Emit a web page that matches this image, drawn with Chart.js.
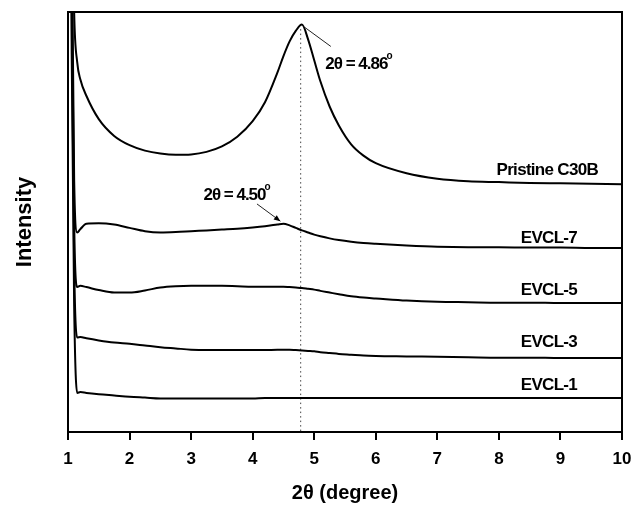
<!DOCTYPE html>
<html>
<head>
<meta charset="utf-8">
<script src="https://cdn.jsdelivr.net/npm/chart.js@4/dist/chart.umd.min.js"></script>
<style>
  html, body { margin: 0; padding: 0; background: #fff; }
  #wrap { width: 632px; height: 505px; }
</style>
</head>
<body>
<div id="wrap"><canvas id="chart"></canvas></div>
<script>
// 2 theta positions (degree), shared by every pattern
var twoTheta = [1.0, 1.03, 1.06, 1.1, 1.15, 1.2, 1.3, 1.5, 1.75, 2, 2.25, 2.5, 2.75, 3, 3.25, 3.5, 3.75, 4, 4.2, 4.4, 4.5, 4.6, 4.7, 4.8, 4.9, 5, 5.1, 5.25, 5.4, 5.6, 5.8, 6, 6.5, 7, 7.5, 8, 8.5, 9, 9.5, 10];

// intensities (arbitrary, stacked offsets as in the figure)
var pristine = [250, 200, 140, 100, 88, 84, 80, 74.5, 70.5, 68.3, 67, 66.3, 66, 66.1, 66.7, 68, 70.3, 74, 78.5, 85.5, 89.5, 93, 95.5, 97, 93.5, 88.5, 83.5, 77.5, 73, 68.5, 65.8, 64, 61.6, 60.3, 59.7, 59.5, 59.3, 59.2, 59.1, 59];
var evcl7 = [250, 200, 120, 60, 47.5, 48.3, 49.6, 49.7, 49.4, 48.6, 47.8, 47.5, 47.6, 47.8, 48, 48.2, 48.4, 48.7, 49, 49.4, 49.6, 49.2, 48.6, 48, 47.5, 47, 46.6, 46.1, 45.7, 45.3, 45, 44.8, 44.4, 44.1, 44, 44, 43.9, 43.9, 43.8, 43.8];
var evcl5 = [250, 200, 110, 50, 34.5, 34.8, 34.5, 33.8, 33.2, 33.2, 33.7, 34.4, 34.7, 34.8, 34.8, 34.8, 34.7, 34.6, 34.6, 34.6, 34.6, 34.5, 34.4, 34.3, 34.1, 33.9, 33.6, 33.2, 32.8, 32.3, 32, 31.8, 31.3, 31, 30.9, 30.8, 30.8, 30.7, 30.7, 30.7];
var evcl3 = [250, 200, 100, 40, 22.5, 22.6, 22.3, 21.8, 21.3, 21, 20.6, 20.2, 19.9, 19.6, 19.5, 19.5, 19.5, 19.5, 19.5, 19.6, 19.6, 19.6, 19.5, 19.4, 19.3, 19.2, 19, 18.8, 18.6, 18.4, 18.2, 18.1, 18, 17.9, 17.8, 17.7, 17.7, 17.6, 17.6, 17.6];
var evcl1 = [250, 200, 90, 30, 9.3, 9.5, 9.3, 9, 8.7, 8.4, 8.2, 8, 8, 8, 8, 8, 8, 8, 8.1, 8.1, 8.1, 8.1, 8.1, 8.1, 8.1, 8.1, 8.1, 8.1, 8.1, 8.1, 8.1, 8.1, 8.1, 8.1, 8.1, 8.1, 8.1, 8.1, 8.1, 8.1];

var seriesNames = ['Pristine C30B', 'EVCL-7', 'EVCL-5', 'EVCL-3', 'EVCL-1'];
var seriesValues = [pristine, evcl7, evcl5, evcl3, evcl1];

// dotted marker at the C30B peak
var peakLineX = [4.78, 4.78];
var peakLineY = [97, 0];

var xTicks = [1, 2, 3, 4, 5, 6, 7, 8, 9, 10];

function toPoints(xs, ys) {
    var pts = [];
    for (var i = 0; i < xs.length; i++) {
        pts.push({ x: xs[i], y: ys[i] });
    }
    return pts;
}

var dataSet = [];
seriesValues.forEach(function (vals, index) {
    dataSet.push({
        label: seriesNames[index],
        data: toPoints(twoTheta, vals),
        borderColor: '#000',
        borderWidth: 2,
        pointRadius: 0,
        cubicInterpolationMode: 'monotone',
        fill: false
    });
});

dataSet.push({
    label: 'peak',
    data: toPoints(peakLineX, peakLineY),
    borderColor: '#444',
    borderWidth: 1,
    borderDash: [1.5, 3],
    pointRadius: 0,
    fill: false
});

// text labels placed in data coordinates
var notes = [
    { text: 'Pristine C30B', x: 9.61, y: 62.4 },
    { text: 'EVCL-7', x: 9.27, y: 46.2 },
    { text: 'EVCL-5', x: 9.27, y: 33.8 },
    { text: 'EVCL-3', x: 9.27, y: 21.4 },
    { text: 'EVCL-1', x: 9.27, y: 11.2 }
];

var FONT = '"Liberation Sans", Arial, sans-serif';

var annotate = {
    id: 'annotate',
    afterDatasetsDraw: function (chart) {
        var ctx = chart.ctx;
        var xs = chart.scales.x;
        var ys = chart.scales.y;
        var area = chart.chartArea;
        ctx.save();

        // frame (top and right)
        ctx.strokeStyle = '#000';
        ctx.lineWidth = 2;
        ctx.beginPath();
        ctx.moveTo(area.left, area.top);
        ctx.lineTo(area.right, area.top);
        ctx.lineTo(area.right, area.bottom);
        ctx.stroke();

        ctx.fillStyle = '#000';
        ctx.textBaseline = 'middle';
        ctx.font = 'bold 17px ' + FONT;
        ctx.letterSpacing = '-0.7px';
        notes.forEach(function (n) {
            ctx.textAlign = 'right';
            ctx.fillText(n.text, xs.getPixelForValue(n.x), ys.getPixelForValue(n.y));
        });

        // peak labels
        function degLabel(txt, x, y) {
            ctx.textAlign = 'left';
            ctx.font = 'bold 17px ' + FONT;
            ctx.letterSpacing = '-1px';
            var px = xs.getPixelForValue(x);
            var py = ys.getPixelForValue(y);
            ctx.fillText(txt, px, py);
            var w = ctx.measureText(txt).width;
            ctx.letterSpacing = '0px';
            ctx.font = 'bold 10px ' + FONT;
            ctx.fillText('o', px + w - 1, py - 8);
        }
        degLabel('2\u03b8 = 4.86', 5.18, 87.6);
        degLabel('2\u03b8 = 4.50', 3.2, 56.3);

        ctx.lineWidth = 1;
        ctx.strokeStyle = '#222';
        // leader for 4.86
        ctx.beginPath();
        ctx.moveTo(xs.getPixelForValue(4.85), ys.getPixelForValue(96.3));
        ctx.lineTo(xs.getPixelForValue(5.27), ys.getPixelForValue(91.8));
        ctx.stroke();

        // arrow for 4.50
        var ax0 = xs.getPixelForValue(4.07), ay0 = ys.getPixelForValue(54.3);
        var ax1 = xs.getPixelForValue(4.45), ay1 = ys.getPixelForValue(50.2);
        ctx.beginPath();
        ctx.moveTo(ax0, ay0);
        ctx.lineTo(ax1, ay1);
        ctx.stroke();
        var ang = Math.atan2(ay1 - ay0, ax1 - ax0);
        ctx.beginPath();
        ctx.moveTo(ax1, ay1);
        ctx.lineTo(ax1 - 7 * Math.cos(ang - 0.4), ay1 - 7 * Math.sin(ang - 0.4));
        ctx.lineTo(ax1 - 7 * Math.cos(ang + 0.4), ay1 - 7 * Math.sin(ang + 0.4));
        ctx.closePath();
        ctx.fillStyle = '#000';
        ctx.fill();

        ctx.restore();
    }
};

new Chart(document.getElementById('chart'), {
    type: 'line',
    data: { datasets: dataSet },
    options: {
        responsive: true,
        maintainAspectRatio: false,
        animation: false,
        layout: { padding: { top: 12, right: 0, left: 0, bottom: 0 } },
        plugins: {
            legend: { display: false },
            tooltip: { enabled: false }
        },
        scales: {
            x: {
                type: 'linear',
                min: 1,
                max: 10,
                afterBuildTicks: function (axis) {
                    axis.ticks = xTicks.map(function (v) { return { value: v }; });
                },
                ticks: {
                    color: '#000',
                    font: { family: FONT, size: 17, weight: 'bold' },
                    padding: 9,
                    maxRotation: 0
                },
                grid: {
                    drawOnChartArea: false,
                    drawTicks: true,
                    tickLength: 8,
                    color: '#000',
                    lineWidth: 2
                },
                border: { display: true, color: '#000', width: 2 },
                title: {
                    display: true,
                    text: '2\u03b8 (degree)',
                    color: '#000',
                    font: { family: FONT, size: 20, weight: 'bold' },
                    padding: { top: 4, bottom: 0 }
                },
                afterFit: function (axis) {
                    axis.height = 73;
                    axis.paddingRight = 10;
                }
            },
            y: {
                min: 0,
                max: 100,
                ticks: { display: false },
                grid: { display: false, drawTicks: false },
                border: { display: true, color: '#000', width: 2 },
                title: {
                    display: true,
                    text: 'Intensity',
                    color: '#000',
                    font: { family: FONT, size: 22, weight: 'bold' },
                    padding: { top: 12, bottom: 0 }
                },
                afterFit: function (axis) { axis.width = 68; }
            }
        }
    },
    plugins: [annotate]
});
</script>
</body>
</html>
